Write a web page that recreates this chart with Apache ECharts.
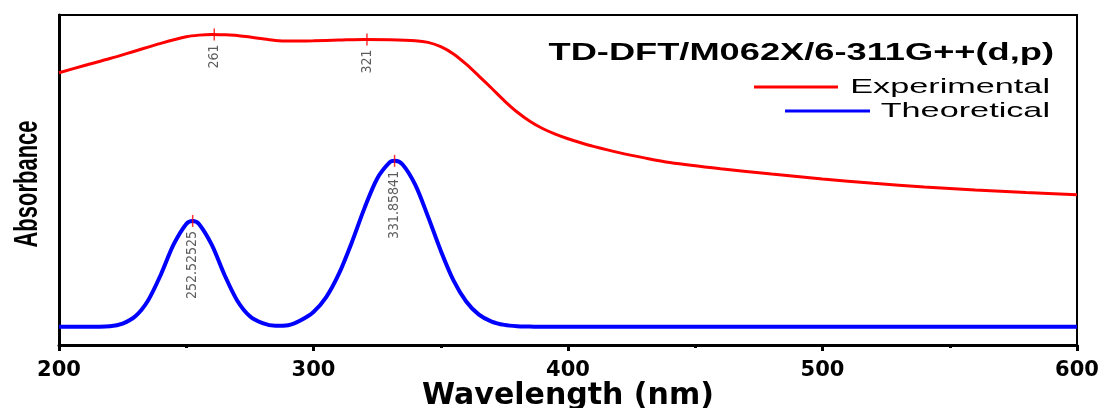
<!DOCTYPE html>
<html>
<head>
<meta charset="utf-8">
<script src="https://cdn.jsdelivr.net/npm/echarts@6/dist/echarts.min.js"></script>
<style>
html,body{margin:0;padding:0;background:#fff;}
#chart{width:1105px;height:408px;}
</style>
</head>
<body>
<div id="chart"></div>
<script>
// ---- data (absorbance in arbitrary units) ----
const expWavelengths = [200,210,220,230,240,250,255,260,265,270,275,280,285,290,300,310,320,330,340,345,350,355,360,365,370,375,380,385,390,395,400,405,410,420,430,440,460,480,500,520,540,560,580,600];
const expAbsorbance  = [0.825,0.847,0.868,0.891,0.914,0.934,0.939,0.941,0.940,0.938,0.933,0.928,0.923,0.921,0.922,0.924,0.926,0.925,0.922,0.917,0.904,0.882,0.851,0.815,0.778,0.740,0.706,0.678,0.656,0.639,0.625,0.613,0.602,0.583,0.567,0.553,0.534,0.518,0.503,0.490,0.479,0.470,0.462,0.455];

const theoWavelengths = [200,210,220,225,230,235,240,245,250,252.5,255,260,265,270,275,280,285,290,295,300,305,310,315,320,325,330,331.86,335,340,345,350,355,360,365,370,375,380,385,390,400,450,500,550,600];
const theoAbsorbance  = [0.055,0.055,0.057,0.065,0.087,0.135,0.213,0.304,0.367,0.376,0.367,0.304,0.213,0.135,0.087,0.066,0.058,0.060,0.075,0.100,0.145,0.216,0.310,0.414,0.504,0.554,0.558,0.547,0.485,0.389,0.286,0.196,0.132,0.092,0.071,0.061,0.057,0.056,0.055,0.055,0.055,0.055,0.055,0.055];

const expPeakX = [261, 321];
const expPeakY = [0.941, 0.926];
const expPeakLabels = ['261', '321'];
const theoPeakX = [252.52525, 331.85841];
const theoPeakY = [0.376, 0.558];
const theoPeakLabels = ['252.52525', '331.85841'];

const xTicks = {min: 200, max: 600, interval: 100};
const seriesNames = ['Experimental', 'Theoretical'];
const methodTitle = 'TD-DFT/M062X/6-311G++(d,p)';
const xTitle = 'Wavelength (nm)';
const yTitle = 'Absorbance';

// ---- chart ----
const zip = (xs, ys) => xs.map((x, i) => [x, ys[i]]);
const narrow = "'Liberation Sans Narrow','DejaVu Sans Condensed','Roboto',sans-serif";

const peakLabel = (labels) => ({
  show: true,
  position: 'bottom',
  distance: 4,
  rotate: 90,
  align: 'right',
  verticalAlign: 'middle',
  fontFamily: narrow,
  fontSize: 14,
  color: '#333',
  formatter: (p) => labels[p.dataIndex]
});

const chart = echarts.init(document.getElementById('chart'), null, {renderer: 'canvas'});
chart.setOption({
  backgroundColor: '#fff',
  animation: false,
  grid: {left: 59, right: 28, top: 15, bottom: 63, show: true, borderColor: '#000', borderWidth: 2,
         backgroundColor: 'transparent', containLabel: false, outerBoundsMode: 'none'},
  xAxis: {
    type: 'value', min: xTicks.min, max: xTicks.max, interval: xTicks.interval,
    name: xTitle, nameLocation: 'middle', nameGap: 36, nameMoveOverlap: false,
    nameTextStyle: {fontFamily: "'DejaVu Sans',sans-serif", fontWeight: 'bold', fontSize: 30, color: '#000'},
    axisLine: {show: true, onZero: false, lineStyle: {color: '#000', width: 3}},
    axisTick: {show: true, length: 6, lineStyle: {color: '#000', width: 3}},
    minorTick: {show: true, splitNumber: 2, length: 3, lineStyle: {color: '#000', width: 3}},
    axisLabel: {margin: 15, fontFamily: "'DejaVu Sans',sans-serif", fontWeight: 'bold', fontSize: 21, color: '#000'},
    splitLine: {show: false}
  },
  yAxis: {
    type: 'value', min: 0, max: 1,
    axisLine: {show: true, onZero: false, lineStyle: {color: '#000', width: 3}},
    axisTick: {show: false},
    axisLabel: {show: false},
    splitLine: {show: false}
  },
  series: [
    {name: seriesNames[0], type: 'line', data: zip(expWavelengths, expAbsorbance), showSymbol: false, smooth: 0.3,
     lineStyle: {color: '#ff0000', width: 3}, itemStyle: {color: '#ff0000'}, z: 3},
    {name: seriesNames[1], type: 'line', data: zip(theoWavelengths, theoAbsorbance), showSymbol: false, smooth: 0.3,
     lineStyle: {color: '#0000ff', width: 4}, itemStyle: {color: '#0000ff'}, z: 3},
    {type: 'scatter', data: zip(expPeakX, expPeakY), symbol: 'rect', symbolSize: [1.5, 12],
     itemStyle: {color: '#ff0000'}, label: peakLabel(expPeakLabels), z: 5},
    {type: 'scatter', data: zip(theoPeakX, theoPeakY), symbol: 'rect', symbolSize: [1.5, 12],
     itemStyle: {color: '#ff0000'}, label: peakLabel(theoPeakLabels), z: 5}
  ],
  graphic: [
    {type: 'text', x: 28, y: 184, rotation: Math.PI / 2, scaleY: 1.5, z: 10,
     style: {text: yTitle, font: "bold 22px 'Liberation Sans',Arial,sans-serif", fill: '#000', textAlign: 'center', textVerticalAlign: 'middle'}},
    {type: 'text', x: 1054, y: 53, scaleX: 1.51, z: 10,
     style: {text: methodTitle, font: "bold 24px 'Liberation Sans',Arial,sans-serif", fill: '#000', textAlign: 'right', textVerticalAlign: 'middle'}},
    {type: 'line', shape: {x1: 754, y1: 87, x2: 838, y2: 87}, style: {stroke: '#ff0000', lineWidth: 3}, z: 10},
    {type: 'text', x: 1050, y: 87, scaleX: 1.63, z: 10,
     style: {text: seriesNames[0], font: "21px 'Liberation Sans',Arial,sans-serif", fill: '#000', textAlign: 'right', textVerticalAlign: 'middle'}},
    {type: 'line', shape: {x1: 785, y1: 111, x2: 870, y2: 111}, style: {stroke: '#0000ff', lineWidth: 3}, z: 10},
    {type: 'text', x: 1050, y: 111, scaleX: 1.63, z: 10,
     style: {text: seriesNames[1], font: "21px 'Liberation Sans',Arial,sans-serif", fill: '#000', textAlign: 'right', textVerticalAlign: 'middle'}}
  ]
});
</script>
</body>
</html>
